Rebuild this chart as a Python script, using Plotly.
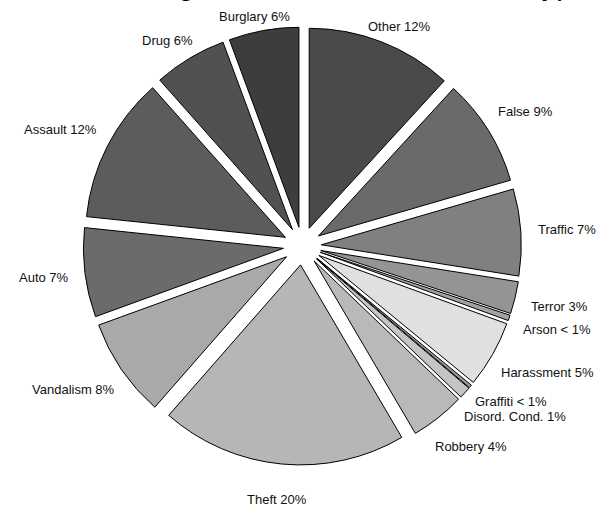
import math
import plotly.graph_objects as go

# Share of incidents per crime type (percent), clockwise from 12 o'clock
categories = ["Other", "False", "Traffic", "Terror", "Arson", "Harassment", "Graffiti",
              "Disord. Cond.", "Robbery", "Theft", "Vandalism", "Auto", "Assault",
              "Drug", "Burglary"]
shares = [11.8, 8.7, 7.0, 2.6, 0.45, 5.4, 0.25, 0.95, 4.4, 19.9, 8.0, 7.2, 11.8, 5.9, 5.65]
greys = ["#4a4a4a", "#6a6a6a", "#808080", "#949494", "#a2a2a2", "#e0e0e0", "#9a9a9a",
         "#c4c4c4", "#b9b9b9", "#b6b6b6", "#a9a9a9", "#6b6b6b", "#5c5c5c", "#515151",
         "#3d3d3d"]
title_text = "Percentage of Each Crime Incident Type"

W, H = 611, 514
PULL = 0.095
CX, CY = 302.3, 246.0          # pie centre, px
R_OUT = 219.0                   # radius incl. pull, px
LABEL_RX = 236.0                # horizontal reach of the label ring
LABEL_RY = 255.0                # vertical reach of the label ring
LABEL_SIZE = 13
LINE_H = 15.0
FONT = "Liberation Sans, Arial, Helvetica, sans-serif"

# approximate Helvetica/Arial advance widths (em) used to centre label boxes
_ADV = {
    "a": .556, "b": .556, "c": .5, "d": .556, "e": .556, "f": .278, "g": .556, "h": .556,
    "i": .222, "j": .222, "k": .5, "l": .222, "m": .833, "n": .556, "o": .556, "p": .556,
    "q": .556, "r": .333, "s": .5, "t": .278, "u": .556, "v": .5, "w": .722, "x": .5,
    "y": .5, "z": .5, " ": .278, ".": .278, "%": .889, "<": .584,
    "A": .667, "B": .667, "C": .722, "D": .722, "F": .611, "G": .778, "H": .722,
    "O": .778, "R": .722, "T": .611, "V": .667, "I": .278,
}


def text_width(s, size):
    return sum(_ADV.get(ch, .556) for ch in s) * size


dom_x = [(CX - R_OUT) / W, (CX + R_OUT) / W]
dom_y = [1 - (CY + R_OUT) / H, 1 - (CY - R_OUT) / H]

fig = go.Figure(go.Pie(
    labels=categories, values=shares, sort=False, direction="clockwise", rotation=0,
    pull=PULL, textinfo="none", hoverinfo="label+percent",
    marker=dict(colors=greys, line=dict(color="black", width=1)),
    domain=dict(x=dom_x, y=dom_y), showlegend=False,
))

# outside labels placed on a ring at each slice's mid-angle
total = sum(shares)
cum = 0.0
labels = []
for name, v in zip(categories, shares):
    pct = v / total * 100
    txt = f"{name} < 1%" if round(pct) < 1 else f"{name} {round(pct)}%"
    ang = (cum + v / 2) / total * 2 * math.pi
    cum += v
    s, c = math.sin(ang), math.cos(ang)
    w = text_width(txt, LABEL_SIZE)
    x = CX + LABEL_RX * s + w / 2 * s
    ry = LABEL_RY - 57.5 * max(0.0, c - 0.6)   # flatter near the top
    y = CY - ry * c
    labels.append(dict(text=txt, x=x, y=y, side=1 if s > 0 else -1))

# spread labels that would collide on the same side
for side in (1, -1):
    grp = sorted([l for l in labels if l["side"] == side], key=lambda l: l["y"])
    for i in range(len(grp) - 2, -1, -1):
        if grp[i]["y"] > grp[i + 1]["y"] - LINE_H:
            grp[i]["y"] = grp[i + 1]["y"] - LINE_H

annotations = [
    dict(text=l["text"], x=l["x"] / W, y=1 - l["y"] / H, xref="paper", yref="paper",
         xanchor="center", yanchor="middle", showarrow=False,
         font=dict(family=FONT, size=LABEL_SIZE, color="#111111"))
    for l in labels
]
annotations.append(dict(
    text=title_text, x=58 / W, y=1, xref="paper", yref="paper", xanchor="left",
    yanchor="bottom", yshift=-3, showarrow=False,
    font=dict(family=FONT, size=29.5, color="black"),
))

fig.update_layout(
    width=W, height=H, margin=dict(l=0, r=0, t=0, b=0),
    paper_bgcolor="white", plot_bgcolor="white", showlegend=False,
    annotations=annotations,
)

fig.write_html("out.html")
